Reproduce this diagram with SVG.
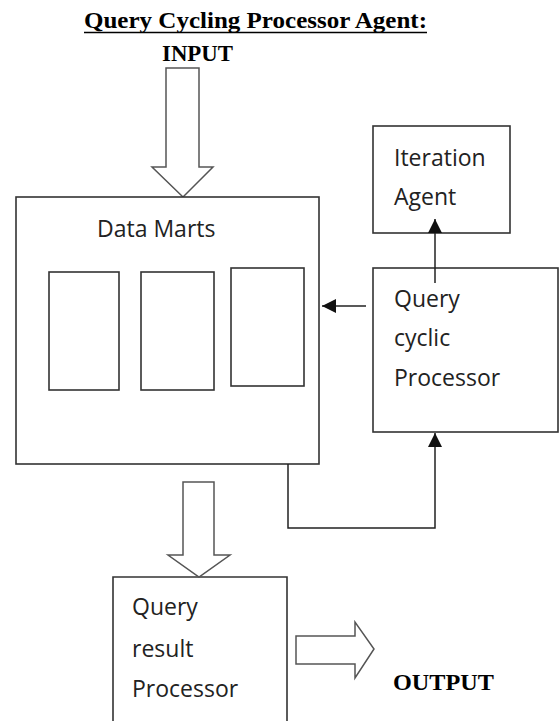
<svg xmlns="http://www.w3.org/2000/svg" width="559" height="721" viewBox="0 0 559 721">
<style>
.box{fill:#fff;stroke:#333;stroke-width:1.6}
.blk{fill:#fff;stroke:#555;stroke-width:1.5;stroke-linejoin:miter}
.ln{fill:none;stroke:#222;stroke-width:1.5}
.lbl{font-family:"Open Sans","Noto Sans",sans-serif;font-size:23px;fill:#222}
.tt{font-family:"Liberation Serif","Times New Roman",serif;font-weight:bold;fill:#000}
</style>
<defs>
<marker id="ah" viewBox="0 0 10 10" refX="10" refY="5" markerWidth="14" markerHeight="14" markerUnits="userSpaceOnUse" orient="auto">
<path d="M0,0 L10,5 L0,10 z" fill="#111"/>
</marker>
</defs>
<rect width="559" height="721" fill="#fff"/>
<g id="title">
<text class="tt" x="255.5" y="28" font-size="23" text-anchor="middle" textLength="343" lengthAdjust="spacingAndGlyphs">Query Cycling Processor Agent:</text>
<line x1="84" y1="32.5" x2="427" y2="32.5" stroke="#000" stroke-width="1.5"/>
</g>
<g id="input">
<text class="tt" x="162" y="61" font-size="24" textLength="71" lengthAdjust="spacingAndGlyphs">INPUT</text>
<path class="blk" d="M166,68 H199 V167 H213 L183,197 L152,167 H166 Z"/>
</g>
<g id="data-marts">
<rect class="box" x="16" y="197" width="303" height="267"/>
<text class="lbl" x="97" y="237">Data Marts</text>
<rect class="box" x="49" y="272" width="70" height="118"/>
<rect class="box" x="141" y="272" width="73" height="118"/>
<rect class="box" x="231" y="268" width="73" height="118"/>
</g>
<g id="iteration-agent">
<rect class="box" x="373" y="126" width="137" height="107"/>
<text class="lbl" x="394" y="166">Iteration</text>
<text class="lbl" x="394" y="205">Agent</text>
</g>
<g id="query-cyclic">
<rect class="box" x="373" y="268" width="185" height="164"/>
<text class="lbl" x="394" y="307">Query</text>
<text class="lbl" x="394" y="346">cyclic</text>
<text class="lbl" x="394" y="386">Processor</text>
</g>
<g id="query-result">
<path class="box" d="M113,722 V577 H287 V722"/>
<text class="lbl" x="132" y="615">Query</text>
<text class="lbl" x="132" y="657">result</text>
<text class="lbl" x="132" y="697">Processor</text>
</g>
<g id="connectors">
<line class="ln" x1="435" y1="283" x2="435" y2="219" marker-end="url(#ah)"/>
<line class="ln" x1="366" y1="306" x2="322" y2="306" marker-end="url(#ah)"/>
<polyline class="ln" points="288,464 288,528 435,528 435,433" marker-end="url(#ah)"/>
<path class="blk" d="M183,482 H214 V555 H230 L199,577 L168,555 H183 Z"/>
<path class="blk" d="M296,636 H355 V622 L374,649 L355,678 V664 H296 Z"/>
</g>
<g id="output">
<text class="tt" x="393" y="690" font-size="24" textLength="101" lengthAdjust="spacingAndGlyphs">OUTPUT</text>
</g>
</svg>
